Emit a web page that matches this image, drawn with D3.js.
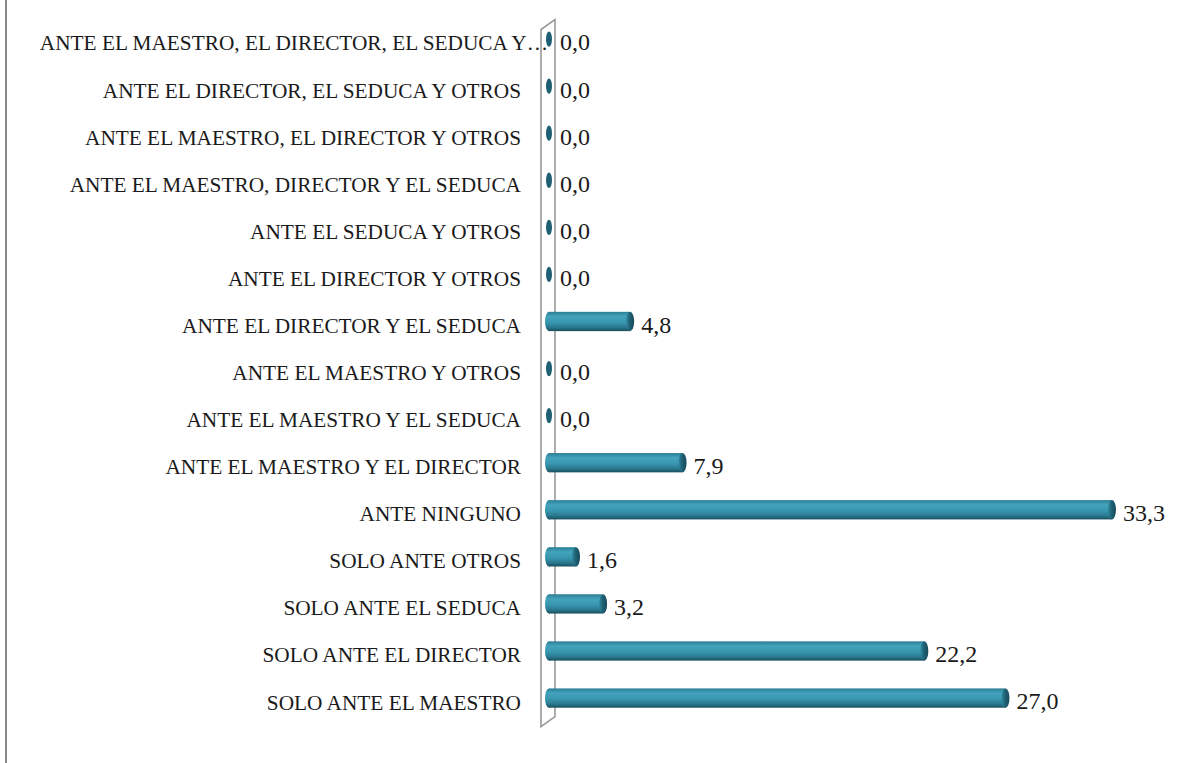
<!DOCTYPE html>
<html>
<head>
<meta charset="utf-8">
<script src="https://cdn.jsdelivr.net/npm/d3@7"></script>
<style>
  html, body { margin: 0; padding: 0; background: #fff; }
  #chart { width: 1181px; height: 763px; }
</style>
</head>
<body>
<div id="chart"></div>
<script>
// ── Data ──────────────────────────────────────────────────────────────────
const categories = [
  "ANTE EL MAESTRO, EL DIRECTOR, EL SEDUCA Y OTROS",
  "ANTE EL DIRECTOR, EL SEDUCA Y OTROS",
  "ANTE EL MAESTRO, EL DIRECTOR Y OTROS",
  "ANTE EL MAESTRO, DIRECTOR Y EL SEDUCA",
  "ANTE EL SEDUCA Y OTROS",
  "ANTE EL DIRECTOR Y OTROS",
  "ANTE EL DIRECTOR Y EL SEDUCA",
  "ANTE EL MAESTRO Y OTROS",
  "ANTE EL MAESTRO Y EL SEDUCA",
  "ANTE EL MAESTRO Y EL DIRECTOR",
  "ANTE NINGUNO",
  "SOLO ANTE OTROS",
  "SOLO ANTE EL SEDUCA",
  "SOLO ANTE EL DIRECTOR",
  "SOLO ANTE EL MAESTRO"
];
const values = [0.0, 0.0, 0.0, 0.0, 0.0, 0.0, 4.8, 0.0, 0.0, 7.9, 33.3, 1.6, 3.2, 22.2, 27.0];

const data = categories.map((c, i) => ({ cat: c, value: values[i] }));

// ── Layout ────────────────────────────────────────────────────────────────
const width = 1181, height = 763;
const labelX = 521;
const labelMaxW = 498;
const fmt = v => v.toFixed(1).replace(".", ",");

const svg = d3.select("#chart").append("svg")
  .attr("width", width).attr("height", height);

const x = d3.scaleLinear().domain([0, 33.3]).range([549, 1112]);
const y = d3.scaleBand().domain(categories)
  .range([15.5, 721.6]).paddingInner(0.59).paddingOuter(0.295);

const barH = y.bandwidth();
const capRx = 4;

// ── Gradients ─────────────────────────────────────────────────────────────
const defs = svg.append("defs");
const bodyGrad = defs.append("linearGradient").attr("id", "cyl")
  .attr("x1", 0).attr("y1", 0).attr("x2", 0).attr("y2", 1);
[["0%", "#2a7e95"], ["25%", "#44a3bc"], ["55%", "#3896af"], ["80%", "#2a7990"], ["100%", "#1a4f60"]]
  .forEach(([o, c]) => bodyGrad.append("stop").attr("offset", o).attr("stop-color", c));

const capGrad = defs.append("linearGradient").attr("id", "cap")
  .attr("x1", 0).attr("y1", 0).attr("x2", 1).attr("y2", 0);
[["0%", "#2f8aa2"], ["45%", "#1f6074"], ["100%", "#174a5a"]]
  .forEach(([o, c]) => capGrad.append("stop").attr("offset", o).attr("stop-color", c));

// ── Frame line on the left ────────────────────────────────────────────────
svg.append("line")
  .attr("x1", 6).attr("x2", 6).attr("y1", 0).attr("y2", height)
  .attr("stroke", "#8a8a8a").attr("stroke-width", 2);

// ── 3D wall ───────────────────────────────────────────────────────────────
const wFront = x(0) - 8, wBack = x(0) + 6;
const wTop = y.range()[0] + 4, wBottom = y.range()[1] + 5;
svg.append("path")
  .attr("d", `M${wFront},${wTop + 10}L${wBack},${wTop}L${wBack},${wBottom - 10}L${wFront},${wBottom}Z`)
  .attr("fill", "#fff")
  .attr("stroke", "#9a9a9a")
  .attr("stroke-width", 1.6);

// ── Bars ──────────────────────────────────────────────────────────────────
const bars = svg.append("g").selectAll("g.bar")
  .data(data).join("g").attr("class", "bar")
  .attr("transform", d => `translate(0,${y(d.cat)})`);

bars.each(function (d) {
  const g = d3.select(this);
  const x0 = x(0), x1 = x(d.value);
  if (d.value <= 0) {
    g.append("ellipse")
      .attr("cx", x0).attr("cy", barH / 2)
      .attr("rx", 3).attr("ry", barH / 2 - 2)
      .attr("fill", "#1f5f73");
    return;
  }
  // left rounded end
  g.append("ellipse")
    .attr("cx", x0).attr("cy", barH / 2)
    .attr("rx", capRx).attr("ry", barH / 2)
    .attr("fill", "url(#cyl)");
  // body
  g.append("rect")
    .attr("x", x0).attr("y", 0)
    .attr("width", x1 - x0).attr("height", barH)
    .attr("fill", "url(#cyl)");
  // right face
  g.append("ellipse")
    .attr("cx", x1).attr("cy", barH / 2)
    .attr("rx", capRx).attr("ry", barH / 2)
    .attr("fill", "url(#cap)");
});

// ── Value labels ──────────────────────────────────────────────────────────
svg.append("g").selectAll("text")
  .data(data).join("text")
  .attr("x", d => x(d.value) + capRx + 7)
  .attr("y", d => y(d.cat) + barH / 2 + 3)
  .attr("dy", "0.35em")
  .attr("font-family", "'Liberation Serif', 'Times New Roman', serif")
  .attr("font-size", "24px")
  .attr("fill", "#1a1a1a")
  .text(d => fmt(d.value));

// ── Category labels ───────────────────────────────────────────────────────
const catLabels = svg.append("g").selectAll("text")
  .data(data).join("text")
  .attr("x", labelX)
  .attr("y", d => y(d.cat) + barH / 2 + 4)
  .attr("dy", "0.35em")
  .attr("text-anchor", "end")
  .attr("font-family", "'Liberation Serif', 'Times New Roman', serif")
  .attr("font-size", "21.3px")
  .attr("fill", "#1a1a1a")
  .text(d => d.cat);

// truncate long labels with an ellipsis that runs past the label edge
catLabels.each(function (d) {
  const el = d3.select(this);
  if (this.getComputedTextLength() <= labelMaxW) return;
  let txt = d.cat;
  while (txt.length > 1) {
    txt = txt.slice(0, -1);
    el.text(txt.trimEnd());
    if (this.getComputedTextLength() <= labelMaxW) break;
  }
  el.text(txt.trimEnd() + "…");
  const w = this.getComputedTextLength();
  el.attr("text-anchor", "start").attr("x", labelX + 27 - w);
});
</script>
</body>
</html>
